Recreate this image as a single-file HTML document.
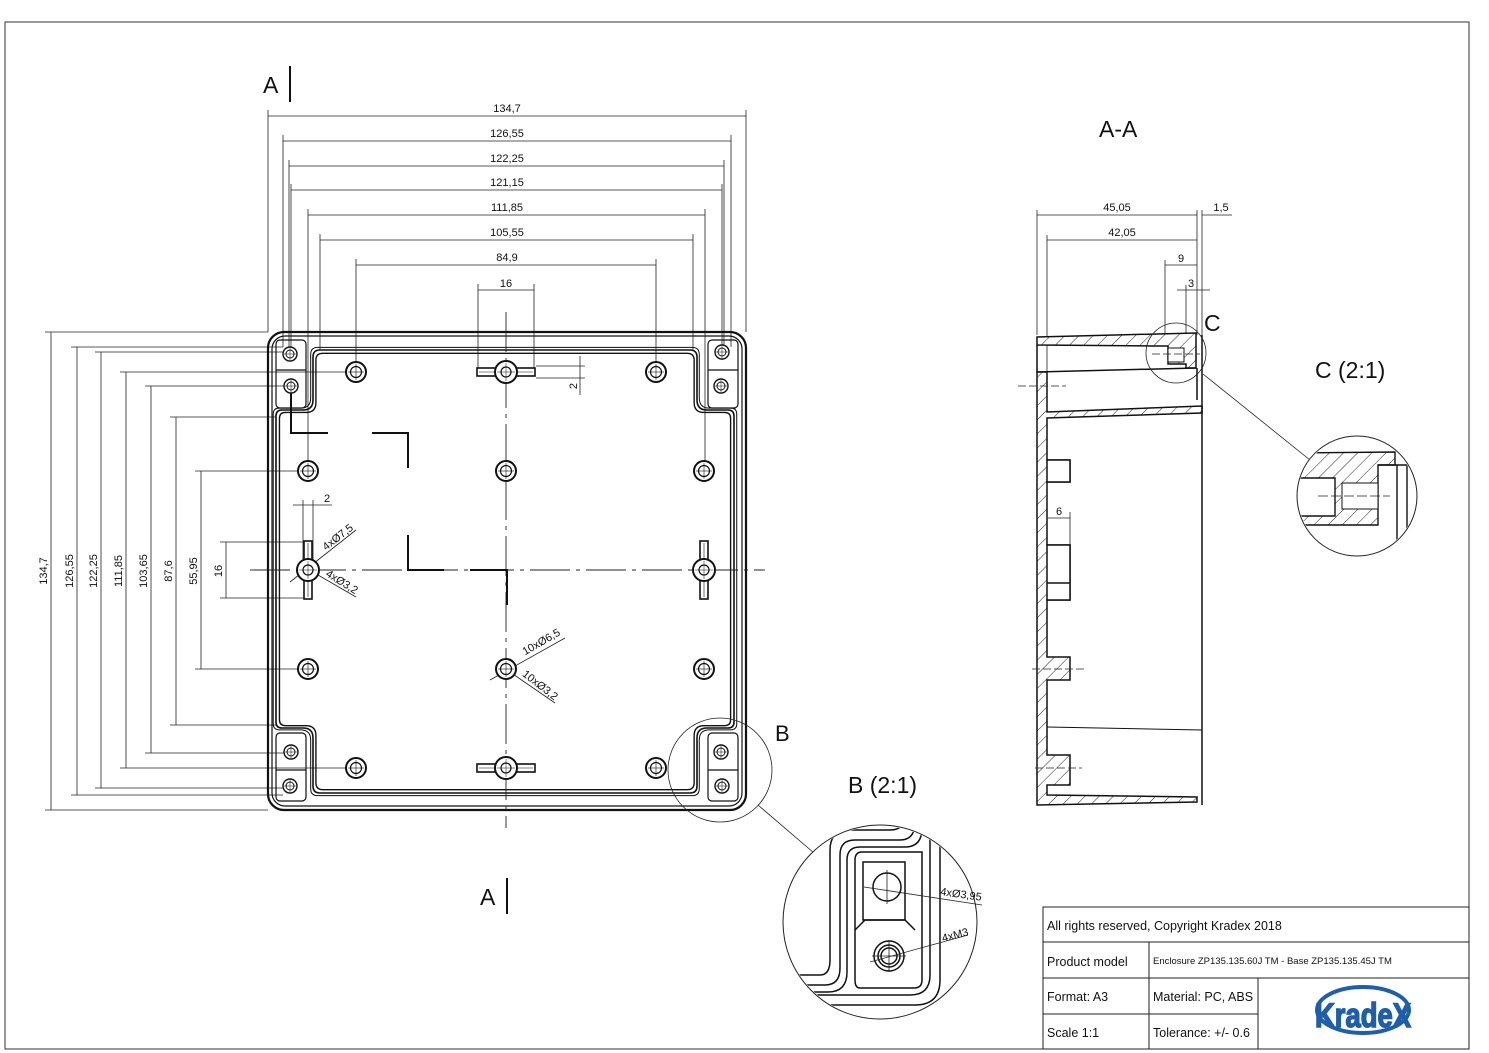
<!DOCTYPE html>
<html><head><meta charset="utf-8"><style>
html,body{margin:0;padding:0;background:#fff}
svg{display:block}
text{font-family:"Liberation Sans",sans-serif;fill:#111}
</style></head><body>
<svg width="1489" height="1053" viewBox="0 0 1489 1053" xmlns="http://www.w3.org/2000/svg">
<defs>
<pattern id="hat" width="10" height="10" patternUnits="userSpaceOnUse" patternTransform="rotate(45)">
<rect width="10" height="10" fill="#fff"/><line x1="0" y1="0" x2="0" y2="10" stroke="#222" stroke-width="1"/></pattern>
<g id="hole"><circle r="10" fill="#fff" stroke="#111" stroke-width="2"/><circle r="5.5" fill="none" stroke="#111" stroke-width="1.2"/><line x1="-8" y1="0" x2="8" y2="0" stroke="#111" stroke-width=".6"/><line x1="0" y1="-8" x2="0" y2="8" stroke="#111" stroke-width=".6"/></g>
<g id="sh"><circle r="7" fill="#fff" stroke="#111" stroke-width="1.4"/><circle r="4" fill="none" stroke="#111" stroke-width="1"/><line x1="-6" y1="0" x2="6" y2="0" stroke="#111" stroke-width=".5"/><line x1="0" y1="-6" x2="0" y2="6" stroke="#111" stroke-width=".5"/></g>
<g id="kh"><rect x="-29" y="-4" width="58" height="8" fill="#fff" stroke="#111" stroke-width="1.6"/><line x1="-27" y1="0" x2="27" y2="0" stroke="#111" stroke-width=".6"/><circle r="11" fill="#fff" stroke="#111" stroke-width="2"/><circle r="5" fill="none" stroke="#111" stroke-width="1.2"/><line x1="-9" y1="0" x2="9" y2="0" stroke="#111" stroke-width=".5"/><line x1="0" y1="-9" x2="0" y2="9" stroke="#111" stroke-width=".5"/></g>
<path id="cav" d="M 320,350 H 690 Q 697,350 697,357 V 400 Q 697,410 707,410 H 728 Q 734,410 734,416 V 722 Q 734,728 728,728 H 707 Q 697,728 697,738 V 786 Q 697,793 690,793 H 320 Q 313,793 313,786 V 738 Q 313,728 303,728 H 282 Q 276,728 276,722 V 416 Q 276,410 282,410 H 303 Q 313,410 313,400 V 357 Q 313,350 320,350 Z" fill="none" stroke="#111"/>
</defs>

<rect x="5" y="22" width="1464" height="1027" fill="none" stroke="#333" stroke-width="1"/>

<g stroke="#222" stroke-width=".8" fill="none">
<line x1="268" y1="116" x2="746" y2="116"/><line x1="283" y1="141" x2="731" y2="141"/>
<line x1="289" y1="166" x2="724" y2="166"/><line x1="291" y1="190" x2="722" y2="190"/>
<line x1="308" y1="215" x2="705" y2="215"/><line x1="320" y1="240" x2="693" y2="240"/>
<line x1="356" y1="265" x2="656" y2="265"/><line x1="478" y1="290" x2="534" y2="290"/>
<line x1="268" y1="110" x2="268" y2="332"/><line x1="746" y1="110" x2="746" y2="332"/>
<line x1="283" y1="135" x2="283" y2="347"/><line x1="731" y1="135" x2="731" y2="347"/>
<line x1="289" y1="160" x2="289" y2="352"/><line x1="724" y1="160" x2="724" y2="352"/>
<line x1="291" y1="184" x2="291" y2="360"/><line x1="722" y1="184" x2="722" y2="360"/>
<line x1="308" y1="209" x2="308" y2="471"/><line x1="705" y1="209" x2="705" y2="471"/>
<line x1="320" y1="234" x2="320" y2="350"/><line x1="693" y1="234" x2="693" y2="350"/>
<line x1="356" y1="259" x2="356" y2="372"/><line x1="656" y1="259" x2="656" y2="372"/>
<line x1="478" y1="284" x2="478" y2="372"/><line x1="534" y1="284" x2="534" y2="372"/>

<line x1="51" y1="332" x2="51" y2="810"/><line x1="77" y1="347" x2="77" y2="795"/>
<line x1="101" y1="352" x2="101" y2="788"/><line x1="126" y1="372" x2="126" y2="768"/>
<line x1="151" y1="386" x2="151" y2="753"/><line x1="176" y1="417" x2="176" y2="725"/>
<line x1="201" y1="471" x2="201" y2="669"/><line x1="226" y1="542" x2="226" y2="598"/>
<line x1="45" y1="332" x2="268" y2="332"/><line x1="45" y1="810" x2="268" y2="810"/>
<line x1="71" y1="347" x2="283" y2="347"/><line x1="71" y1="795" x2="283" y2="795"/>
<line x1="95" y1="352" x2="290" y2="352"/><line x1="95" y1="788" x2="290" y2="788"/>
<line x1="120" y1="372" x2="356" y2="372"/><line x1="120" y1="768" x2="356" y2="768"/>
<line x1="145" y1="386" x2="291" y2="386"/><line x1="145" y1="753" x2="291" y2="753"/>
<line x1="170" y1="417" x2="276" y2="417"/><line x1="170" y1="725" x2="276" y2="725"/>
<line x1="195" y1="471" x2="308" y2="471"/><line x1="195" y1="669" x2="308" y2="669"/>
<line x1="220" y1="542" x2="308" y2="542"/><line x1="220" y1="598" x2="308" y2="598"/>
<line x1="536" y1="366" x2="585" y2="366"/><line x1="536" y1="378" x2="585" y2="378"/><line x1="580" y1="356" x2="580" y2="395"/>
<line x1="303" y1="500" x2="303" y2="560"/><line x1="313" y1="500" x2="313" y2="560"/><line x1="293" y1="505" x2="332" y2="505"/>
<line x1="290" y1="582" x2="356" y2="530"/><line x1="318" y1="575" x2="356" y2="597"/>
<line x1="490" y1="680" x2="565" y2="638"/><line x1="510" y1="672" x2="555" y2="703"/>
</g>
<g font-size="11" text-anchor="middle">
<text x="507" y="112">134,7</text><text x="507" y="137">126,55</text><text x="507" y="162">122,25</text>
<text x="507" y="186">121,15</text><text x="507" y="211">111,85</text><text x="507" y="236">105,55</text>
<text x="507" y="261">84,9</text><text x="506" y="287">16</text>
<text x="327" y="502">2</text>
<text transform="translate(47,571) rotate(-90)">134,7</text><text transform="translate(73,571) rotate(-90)">126,55</text>
<text transform="translate(97,571) rotate(-90)">122,25</text><text transform="translate(122,571) rotate(-90)">111,85</text>
<text transform="translate(147,571) rotate(-90)">103,65</text><text transform="translate(172,571) rotate(-90)">87,6</text>
<text transform="translate(197,571) rotate(-90)">55,95</text><text transform="translate(222,571) rotate(-90)">16</text>
<text transform="translate(577,386) rotate(-90)">2</text>
<text transform="translate(340,540) rotate(-38)">4xØ7,5</text>
<text transform="translate(340,585) rotate(32)">4xØ3,2</text>
<text transform="translate(543,645) rotate(-30)">10xØ6,5</text>
<text transform="translate(538,688) rotate(38)">10xØ3,2</text>
</g>

<rect x="268" y="332" width="478" height="478" rx="16" fill="none" stroke="#111" stroke-width="2.2"/>
<rect x="272" y="336" width="470" height="470" rx="13" fill="none" stroke="#111" stroke-width="1.2"/>
<use href="#cav" stroke-width="1.6"/>
<use href="#cav" transform="translate(507,571) scale(1.012) translate(-507,-571)" stroke-width="1"/>
<use href="#cav" transform="translate(507,571) scale(0.985) translate(-507,-571)" stroke-width="1.4"/>
<g fill="none" stroke="#111" stroke-width="1.2">
<rect x="276" y="340" width="30" height="68" rx="4"/><rect x="708" y="340" width="30" height="68" rx="4"/>
<rect x="276" y="733" width="30" height="68" rx="4"/><rect x="708" y="733" width="30" height="68" rx="4"/>
<line x1="276" y1="370" x2="306" y2="370"/><line x1="708" y1="370" x2="738" y2="370"/>
<line x1="276" y1="770" x2="306" y2="770"/><line x1="708" y1="770" x2="738" y2="770"/>
</g>
<g stroke="#222" stroke-width=".9" stroke-dasharray="40,6,4,6" fill="none">
<line x1="250" y1="570" x2="765" y2="570"/><line x1="506" y1="312" x2="506" y2="828"/>
</g>
<g stroke="#111" stroke-width="2" fill="none">
<path d="M291,388 V433 H328"/><path d="M372,433 H408 V468"/><path d="M408,535 V570 H444"/><path d="M470,570 H507 V605"/>
<line x1="290" y1="66" x2="290" y2="102"/><line x1="507" y1="878" x2="507" y2="914"/>
</g>
<text x="263" y="93" font-size="23">A</text><text x="480" y="905" font-size="23">A</text>

<use href="#hole" x="356" y="372"/><use href="#hole" x="656" y="372"/>
<use href="#hole" x="356" y="768"/><use href="#hole" x="656" y="768"/>
<use href="#hole" x="308" y="471"/><use href="#hole" x="704" y="471"/>
<use href="#hole" x="308" y="669"/><use href="#hole" x="704" y="669"/>
<use href="#hole" x="506" y="471"/><use href="#hole" x="506" y="669"/>
<use href="#kh" x="506" y="372"/><use href="#kh" x="506" y="768"/>
<use href="#kh" transform="translate(308,570) rotate(90)"/><use href="#kh" transform="translate(704,570) rotate(90)"/>
<use href="#sh" x="290" y="354"/><use href="#sh" x="291" y="386"/><use href="#sh" x="722" y="352"/><use href="#sh" x="721" y="386"/>
<use href="#sh" x="291" y="752"/><use href="#sh" x="290" y="786"/><use href="#sh" x="721" y="752"/><use href="#sh" x="722" y="786"/>

<circle cx="720" cy="770" r="52" fill="none" stroke="#222" stroke-width=".8"/>
<line x1="758" y1="805" x2="814" y2="853" stroke="#222" stroke-width=".8"/>
<text x="775" y="741" font-size="22">B</text>
<text x="848" y="793" font-size="23">B (2:1)</text>
<g>
<circle cx="880" cy="922" r="97" fill="#fff" stroke="#222" stroke-width="1"/>
<clipPath id="cb"><circle cx="880" cy="922" r="96"/></clipPath>
<g clip-path="url(#cb)" fill="none" stroke="#111" stroke-width="1.5">
<path d="M780,975 H820 Q830,975 830,960 V850 Q830,830 850,830 H890 Q905,830 905,815"/>
<path d="M780,985 H825 Q840,985 840,968 V855 Q840,840 855,840 H900 Q915,840 915,822"/>
<path d="M780,992 H828 Q847,992 847,972 V860 Q847,847 860,847 H905 Q922,847 922,828"/>
<path d="M930,820 V975 Q930,995 910,995 H780"/>
<path d="M940,820 V980 Q940,1005 915,1005 H780"/>
<path d="M922,852 V980 Q922,988 914,988 H860 Q855,988 855,980 V860 Q855,852 862,852 Z"/>
<path d="M863,862 H905 V920 H863 Z"/>
<path d="M855,930 L865,920 H905 L915,930"/>
<circle cx="887" cy="887" r="14"/>
<circle cx="889" cy="956" r="15"/><circle cx="889" cy="956" r="11"/><circle cx="889" cy="956" r="8"/>
</g>
<g stroke="#222" stroke-width=".8"><line x1="864" y1="887" x2="982" y2="905"/><line x1="870" y1="962" x2="968" y2="935"/>
<line x1="887" y1="870" x2="887" y2="904"/><line x1="872" y1="956" x2="906" y2="956"/><line x1="889" y1="940" x2="889" y2="972"/></g>
<text transform="translate(940,895) rotate(8)" font-size="11">4xØ3,95</text>
<text transform="translate(943,942) rotate(-15)" font-size="11">4xM3</text>
</g>

<text x="1099" y="137" font-size="23">A-A</text>
<g stroke="#222" stroke-width=".8" fill="none">
<line x1="1037" y1="215" x2="1197" y2="215"/><line x1="1047" y1="240" x2="1197" y2="240"/>
<line x1="1165" y1="265" x2="1197" y2="265"/><line x1="1177" y1="290" x2="1210" y2="290"/>
<line x1="1202" y1="215" x2="1232" y2="215"/>
<line x1="1037" y1="210" x2="1037" y2="335"/><line x1="1047" y1="235" x2="1047" y2="372"/>
<line x1="1165" y1="260" x2="1165" y2="345"/><line x1="1186" y1="285" x2="1186" y2="345"/>
<line x1="1197" y1="210" x2="1197" y2="335"/><line x1="1202" y1="210" x2="1202" y2="335"/>
<line x1="1048" y1="518" x2="1070" y2="518"/><line x1="1070" y1="512" x2="1070" y2="545"/>
</g>
<g font-size="11" text-anchor="middle"><text x="1117" y="211">45,05</text><text x="1122" y="236">42,05</text>
<text x="1181" y="262">9</text><text x="1191" y="287">3</text><text x="1221" y="211">1,5</text><text x="1059" y="515">6</text></g>
<g stroke="#111" stroke-width="1.5">
<!-- lid top strip and insert -->
<path d="M1037,337 L1196,333 V368 L1186,368 V364 H1168 V346 L1155,346 L1037,345 Z" fill="url(#hat)"/>
<rect x="1168" y="348" width="16" height="14" fill="#fff" stroke-width="1"/>
<!-- lid rim line -->
<path d="M1037,345 V372 L1196,368" fill="none"/>
<!-- base wall -->
<path d="M1037,372 H1047 V412 L1202,406 V413 L1047,418 V460 H1070 V482 H1047 V545 H1070 V600 H1047 V657 H1070 V680 H1047 V755 H1070 V785 H1047 V795 L1197,797 V802 L1037,805 Z" fill="url(#hat)"/>
<path d="M1047,545 H1070 V600 H1047 Z M1047,583 H1070" fill="#fff"/>
<path d="M1047,460 H1070 V482 H1047 Z" fill="#fff"/>
<line x1="1202" y1="335" x2="1202" y2="805" fill="none"/>
<line x1="1197" y1="368" x2="1197" y2="400" fill="none"/>
<line x1="1047" y1="727" x2="1202" y2="730" stroke-width="1"/>
</g>
<g stroke="#222" stroke-width=".8" stroke-dasharray="8,3"><line x1="1018" y1="386" x2="1066" y2="386"/><line x1="1032" y1="669" x2="1084" y2="669"/><line x1="1035" y1="768" x2="1082" y2="768"/><line x1="1152" y1="354" x2="1200" y2="354"/></g>
<circle cx="1176" cy="353" r="30" fill="none" stroke="#222" stroke-width=".8"/>
<line x1="1203" y1="374" x2="1310" y2="460" stroke="#222" stroke-width=".8"/>
<text x="1204" y="331" font-size="23">C</text>
<text x="1315" y="378" font-size="23">C (2:1)</text>
<circle cx="1357" cy="496" r="60" fill="#fff" stroke="#222" stroke-width="1"/>
<clipPath id="cc"><circle cx="1357" cy="496" r="59"/></clipPath>
<g clip-path="url(#cc)" stroke="#111" stroke-width="1.4">
<path d="M1290,453 L1395,452 V465 L1378,465 V525 H1290 V516 H1335 V478 H1290 Z" fill="url(#hat)"/>
<rect x="1342" y="483" width="36" height="26" fill="#fff" stroke-width="1"/>
<line x1="1397" y1="465" x2="1397" y2="560" fill="none"/><line x1="1407" y1="465" x2="1407" y2="560" fill="none"/>
<line x1="1378" y1="465" x2="1407" y2="465"/>
</g>
<line x1="1318" y1="496" x2="1390" y2="496" stroke="#222" stroke-width=".7" stroke-dasharray="10,3"/>

<g stroke="#222" stroke-width="1" fill="none">
<rect x="1043" y="907" width="426" height="142"/>
<line x1="1043" y1="942" x2="1469" y2="942"/><line x1="1043" y1="978" x2="1469" y2="978"/>
<line x1="1043" y1="1014" x2="1258" y2="1014"/>
<line x1="1149" y1="942" x2="1149" y2="1049"/><line x1="1258" y1="978" x2="1258" y2="1049"/>
</g>
<g font-size="12.5"><text x="1047" y="930">All rights reserved, Copyright Kradex 2018</text>
<text x="1047" y="966">Product model</text><text x="1047" y="1001">Format: A3</text><text x="1047" y="1037">Scale 1:1</text>
<text x="1153" y="1001">Material: PC, ABS</text><text x="1153" y="1037">Tolerance: +/- 0.6</text></g>
<text x="1153" y="964" font-size="9.5">Enclosure ZP135.135.60J TM - Base ZP135.135.45J TM</text>
<ellipse cx="1363" cy="1010" rx="46" ry="23" fill="none" stroke="#1f5ea8" stroke-width="4"/>
<text x="1363" y="1027" font-size="34" font-weight="bold" text-anchor="middle" style="fill:#1f5ea8" stroke="#1f5ea8" stroke-width="1.5" textLength="96" lengthAdjust="spacingAndGlyphs">KradeX</text>
</svg>
</body></html>
